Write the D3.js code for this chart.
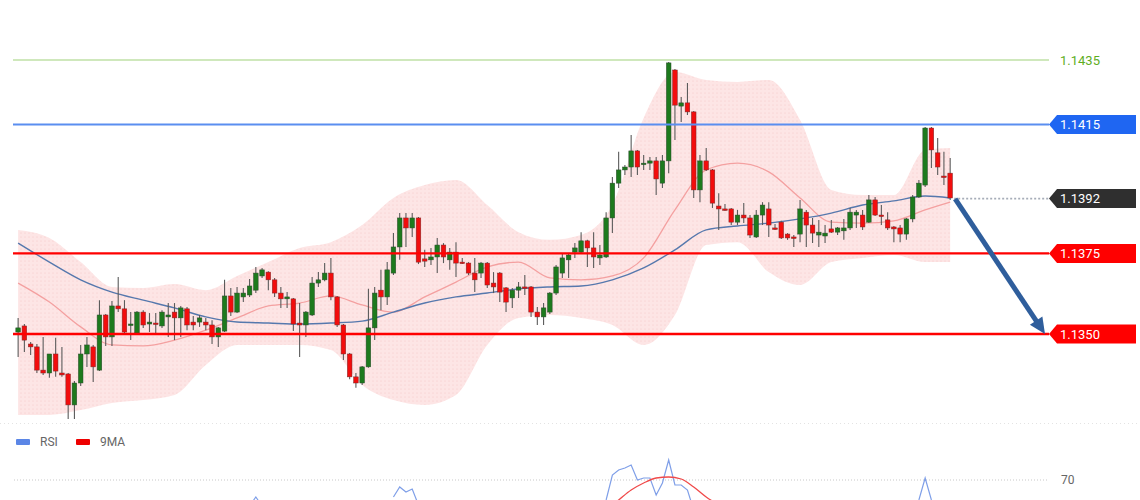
<!DOCTYPE html>
<html><head><meta charset="utf-8">
<script src="https://cdn.jsdelivr.net/npm/d3@7"></script>
<style>body{margin:0;background:#fff}svg{display:block;font-family:Roboto,Arial,sans-serif}</style>
</head><body><svg id="c" width="1140" height="500"></svg>
<script>
const openP=[1.13506,1.13525,1.13469,1.13460,1.13388,1.13379,1.13438,1.13379,1.13376,1.13280,
1.13348,1.13438,1.13460,1.13388,1.13559,1.13491,1.13587,1.13578,1.13528,1.13503,
1.13568,1.13531,1.13534,1.13525,1.13553,1.13568,1.13550,1.13578,1.13537,1.13537,
1.13537,1.13528,1.13491,1.13509,1.13618,1.13568,1.13615,1.13621,1.13636,1.13680,
1.13692,1.13668,1.13627,1.13609,1.13609,1.13534,1.13528,1.13559,1.13658,1.13668,
1.13689,1.13615,1.13528,1.13438,1.13367,1.13348,1.13398,1.13519,1.13636,1.13615,
1.13689,1.13770,1.13860,1.13829,1.13860,1.13733,1.13730,1.13739,1.13776,1.13730,
1.13754,1.13723,1.13720,1.13689,1.13689,1.13720,1.13658,1.13689,1.13643,1.13612,
1.13636,1.13646,1.13646,1.13568,1.13553,1.13568,1.13627,1.13689,1.13730,1.13754,
1.13754,1.13789,1.13767,1.13736,1.13739,1.13860,1.13968,1.14009,1.14018,1.14068,
1.14027,1.14030,1.14037,1.13968,1.14037,1.14319,1.14207,1.14217,1.14189,1.13947,
1.14037,1.14009,1.13897,1.13888,1.13888,1.13847,1.13869,1.13860,1.13801,1.13869,
1.13888,1.13829,1.13847,1.13810,1.13801,1.13810,1.13878,1.13838,1.13807,1.13804,
1.13826,1.13816,1.13820,1.13829,1.13869,1.13869,1.13847,1.13916,1.13869,1.13854,
1.13832,1.13829,1.13810,1.13857,1.13925,1.13962,1.14139,1.14062,1.13990,1.13999];
const highP=[1.13550,1.13531,1.13475,1.13469,1.13491,1.13438,1.13488,1.13460,1.13379,1.13354,
1.13466,1.13491,1.13466,1.13605,1.13562,1.13602,1.13677,1.13605,1.13568,1.13571,
1.13574,1.13565,1.13565,1.13574,1.13596,1.13596,1.13587,1.13584,1.13556,1.13559,
1.13550,1.13543,1.13522,1.13668,1.13643,1.13646,1.13643,1.13671,1.13708,1.13705,
1.13695,1.13674,1.13646,1.13630,1.13612,1.13596,1.13571,1.13677,1.13692,1.13720,
1.13736,1.13618,1.13531,1.13441,1.13379,1.13401,1.13640,1.13646,1.13699,1.13723,
1.13813,1.13875,1.13875,1.13875,1.13863,1.13761,1.13767,1.13798,1.13782,1.13767,
1.13785,1.13736,1.13723,1.13736,1.13723,1.13723,1.13692,1.13692,1.13646,1.13643,
1.13661,1.13683,1.13649,1.13584,1.13596,1.13630,1.13714,1.13751,1.13751,1.13782,
1.13816,1.13792,1.13816,1.13776,1.13878,1.13987,1.14065,1.14024,1.14117,1.14071,
1.14055,1.14049,1.14049,1.14055,1.14344,1.14322,1.14235,1.14279,1.14192,1.14055,
1.14077,1.14012,1.13937,1.13903,1.13891,1.13885,1.13906,1.13869,1.13885,1.13909,
1.13909,1.13841,1.13851,1.13813,1.13807,1.13916,1.13885,1.13860,1.13854,1.13838,
1.13854,1.13832,1.13857,1.13891,1.13885,1.13885,1.13931,1.13925,1.13900,1.13878,
1.13835,1.13838,1.13860,1.13931,1.13978,1.14142,1.14142,1.14108,1.14065,1.14046];
const lowP=[1.13429,1.13444,1.13435,1.13379,1.13373,1.13364,1.13367,1.13367,1.13236,1.13236,
1.13339,1.13398,1.13351,1.13385,1.13463,1.13463,1.13568,1.13503,1.13481,1.13497,
1.13519,1.13506,1.13503,1.13519,1.13491,1.13481,1.13491,1.13512,1.13512,1.13522,
1.13512,1.13469,1.13460,1.13506,1.13556,1.13565,1.13599,1.13615,1.13627,1.13674,
1.13636,1.13615,1.13581,1.13581,1.13509,1.13429,1.13491,1.13556,1.13646,1.13664,
1.13605,1.13522,1.13419,1.13360,1.13333,1.13342,1.13395,1.13481,1.13574,1.13590,
1.13683,1.13730,1.13770,1.13801,1.13717,1.13708,1.13714,1.13689,1.13720,1.13699,
1.13677,1.13717,1.13683,1.13630,1.13674,1.13643,1.13627,1.13599,1.13568,1.13581,
1.13612,1.13621,1.13553,1.13528,1.13528,1.13562,1.13621,1.13674,1.13674,1.13736,
1.13751,1.13708,1.13705,1.13714,1.13736,1.13813,1.13953,1.13993,1.13987,1.13993,
1.14009,1.14009,1.13931,1.13953,1.13999,1.14102,1.14158,1.14179,1.13922,1.13909,
1.14006,1.13891,1.13823,1.13882,1.13838,1.13838,1.13844,1.13798,1.13798,1.13838,
1.13801,1.13823,1.13795,1.13792,1.13770,1.13785,1.13770,1.13782,1.13770,1.13782,
1.13813,1.13807,1.13792,1.13823,1.13829,1.13823,1.13844,1.13866,1.13838,1.13823,
1.13785,1.13785,1.13792,1.13847,1.13922,1.13956,1.14015,1.13993,1.13962,1.13916];
const closeP=[1.13519,1.13481,1.13460,1.13388,1.13379,1.13438,1.13385,1.13373,1.13280,1.13348,
1.13438,1.13466,1.13398,1.13559,1.13491,1.13587,1.13578,1.13506,1.13531,1.13568,
1.13528,1.13537,1.13531,1.13568,1.13559,1.13550,1.13581,1.13528,1.13528,1.13550,
1.13528,1.13491,1.13519,1.13618,1.13568,1.13627,1.13627,1.13649,1.13689,1.13699,
1.13668,1.13627,1.13609,1.13615,1.13531,1.13528,1.13568,1.13658,1.13668,1.13689,
1.13615,1.13528,1.13438,1.13367,1.13348,1.13398,1.13519,1.13627,1.13615,1.13699,
1.13770,1.13860,1.13829,1.13860,1.13723,1.13726,1.13739,1.13776,1.13739,1.13754,
1.13720,1.13720,1.13689,1.13668,1.13720,1.13652,1.13646,1.13630,1.13599,1.13636,
1.13646,1.13643,1.13568,1.13553,1.13581,1.13627,1.13708,1.13736,1.13745,1.13767,
1.13789,1.13767,1.13739,1.13745,1.13860,1.13968,1.14009,1.14018,1.14068,1.14018,
1.14030,1.14037,1.13981,1.14037,1.14341,1.14210,1.14217,1.14189,1.13947,1.14037,
1.14009,1.13906,1.13888,1.13885,1.13847,1.13869,1.13860,1.13807,1.13869,1.13900,
1.13838,1.13826,1.13798,1.13798,1.13798,1.13888,1.13838,1.13813,1.13816,1.13813,
1.13816,1.13829,1.13829,1.13878,1.13878,1.13832,1.13916,1.13869,1.13866,1.13829,
1.13826,1.13810,1.13857,1.13925,1.13968,1.14139,1.14071,1.14018,1.13987,1.13922];

const bandIdx=[0,5,10,15,20,25,30,35,40,45,50,55,60,65,70,75,80,85,90,95,100,105,110,115,120,125,130,135,140,145,149];
const upperBand=[1.13823,1.13798,1.13723,1.13646,1.13643,1.13655,1.13636,1.13680,1.13723,1.13767,1.13785,1.13838,1.13922,1.13962,1.13978,1.13900,1.13816,1.13792,1.13807,1.13900,1.14170,1.14313,1.14288,1.14282,1.14288,1.14164,1.13947,1.13931,1.13931,1.14071,1.14077];
const lowerBand=[1.13249,1.13249,1.13264,1.13286,1.13295,1.13311,1.13404,1.13466,1.13466,1.13466,1.13450,1.13342,1.13295,1.13280,1.13311,1.13466,1.13550,1.13559,1.13550,1.13528,1.13466,1.13559,1.13776,1.13785,1.13692,1.13652,1.13723,1.13736,1.13745,1.13723,1.13723];
const redMA=[1.13658,1.13599,1.13522,1.13466,1.13463,1.13481,1.13512,1.13550,1.13587,1.13596,1.13618,1.13590,1.13568,1.13615,1.13661,1.13708,1.13723,1.13674,1.13668,1.13680,1.13736,1.13885,1.14009,1.14030,1.14003,1.13922,1.13847,1.13844,1.13851,1.13885,1.13909];
const blueMA=[1.13782,1.13723,1.13668,1.13630,1.13605,1.13581,1.13553,1.13537,1.13534,1.13531,1.13534,1.13540,1.13568,1.13596,1.13615,1.13627,1.13640,1.13646,1.13649,1.13668,1.13705,1.13761,1.13823,1.13835,1.13844,1.13857,1.13875,1.13900,1.13913,1.13928,1.13922];

const levelValues=[1.1435,1.1415,1.1392,1.1375,1.1350];
const levelLabels=["1.1435","1.1415","1.1392","1.1375","1.1350"];

const rsiIdx=[36,37,38,39,40,59,60,61,62,63,64,65,89,90,91,93,94,95,96,97,98,99,100,101,102,103,104,105,106,107,108,109,143,144,145,146,147];
const rsiVals=[50,57,61.5,57,50,null,61.5,66.5,64,65.5,57.5,null,null,60.5,null,55,60,72.5,75,76,77.5,70,71,71,62.5,68.5,80,67.5,67.5,65,55,null,55,60,71,60,52];
const ma9Idx=[94,96,98,100,102,104,106,108,110,112];
const ma9Vals=[55,60,65,68.5,71,71.5,70.5,66.5,61.5,57.5];
const rsiTicks=[70];

const svg=d3.select("#c");
const defs=svg.append("defs");
const pat=defs.append("pattern").attr("id","dots").attr("width",4).attr("height",4).attr("patternUnits","userSpaceOnUse");
pat.append("rect").attr("width",4).attr("height",4).attr("fill","#fde5e5");
pat.append("circle").attr("cx",1).attr("cy",1).attr("r",0.55).attr("fill","#f6c8c8");

const n=openP.length;
const x=d3.scaleBand().domain(d3.range(n)).range([15,953.3]).paddingInner(0.26).paddingOuter(0.13);
const xc=i=>x(i)+x.bandwidth()/2;
const y=d3.scaleLinear().domain([1.1350,1.1435]).range([334,60]);

// band
const bandData=bandIdx.map((d,k)=>({i:d,u:upperBand[k],l:lowerBand[k]}));
svg.append("path").datum(bandData)
 .attr("d",d3.area().x(d=>xc(d.i)).y0(d=>y(d.l)).y1(d=>y(d.u)).curve(d3.curveMonotoneX))
 .attr("fill","url(#dots)");

const line=d3.line().x(d=>xc(d.i)).y(d=>y(d.v)).curve(d3.curveMonotoneX);
svg.append("path").datum(bandIdx.map((d,k)=>({i:d,v:redMA[k]}))).attr("d",line)
 .attr("fill","none").attr("stroke","#f4a0a0").attr("stroke-width",1.3);
svg.append("path").datum(bandIdx.map((d,k)=>({i:d,v:blueMA[k]}))).attr("d",line)
 .attr("fill","none").attr("stroke","#5678ad").attr("stroke-width",1.4);

// candles
const candles=d3.range(n).map(i=>({i,o:openP[i],h:highP[i],l:lowP[i],c:closeP[i]}));
const g=svg.append("g");
g.selectAll("line.w").data(candles).join("line").attr("class","w")
 .attr("x1",d=>xc(d.i)).attr("x2",d=>xc(d.i)).attr("y1",d=>y(d.h)).attr("y2",d=>y(d.l))
 .attr("stroke","#5b5b5b").attr("stroke-width",1.1);
g.selectAll("rect.b").data(candles).join("rect").attr("class","b")
 .attr("x",d=>x(d.i)).attr("width",x.bandwidth())
 .attr("y",d=>y(Math.max(d.o,d.c)))
 .attr("height",d=>Math.max(1.5,Math.abs(y(d.o)-y(d.c))))
 .attr("fill",d=>d.c>=d.o?"#1d7a1d":"#f20d0d")
 .attr("stroke",d=>d.c>=d.o?"#2e4a2e":"#7a2a2a").attr("stroke-width",0.5);

// levels
const xEnd=1049;
const lv=svg.append("g");
lv.append("line").attr("x1",13).attr("x2",xEnd).attr("y1",y(levelValues[0])).attr("y2",y(levelValues[0])).attr("stroke","#9fd27a").attr("stroke-width",1.2);
lv.append("text").attr("x",1060).attr("y",y(levelValues[0])).attr("dy","0.36em").attr("fill","#5fae1e").attr("font-size",13).text(levelLabels[0]);
lv.append("line").attr("x1",13).attr("x2",xEnd).attr("y1",y(levelValues[1])).attr("y2",y(levelValues[1])).attr("stroke","#5a8ef0").attr("stroke-width",2);
lv.append("line").attr("x1",xc(n-1)+4).attr("x2",xEnd).attr("y1",y(levelValues[2])).attr("y2",y(levelValues[2])).attr("stroke","#a6adb8").attr("stroke-width",1.6).attr("stroke-dasharray","2,2");
[3,4].forEach(k=>lv.append("line").attr("x1",13).attr("x2",xEnd).attr("y1",y(levelValues[k])).attr("y2",y(levelValues[k])).attr("stroke","#ff0000").attr("stroke-width",2.4));
const boxCol={1:"#1f66f2",2:"#2f2f2f",3:"#ff0000",4:"#ff0000"};
[1,2,3,4].forEach(k=>{
  const yy=y(levelValues[k]);
  lv.append("path").attr("d",`M${xEnd},${yy} L${xEnd+8},${yy-9.5} L1136,${yy-9.5} L1136,${yy+9.5} L${xEnd+8},${yy+9.5} Z`).attr("fill",boxCol[k]);
  lv.append("text").attr("x",1060).attr("y",yy).attr("dy","0.36em").attr("fill","#fff").attr("font-size",13).text(levelLabels[k]);
});

// arrow
const ax0=xc(n-1)+5, ay0=y(closeP[n-1])+1, ax1=1045, ay1=y(levelValues[4]);
const dx=ax1-ax0, dy=ay1-ay0, L=Math.hypot(dx,dy), ux=dx/L, uy=dy/L;
const hl=16, hw=7.5;
const bx=ax1-ux*hl, by=ay1-uy*hl;
svg.append("line").attr("x1",ax0).attr("y1",ay0).attr("x2",bx+ux*2).attr("y2",by+uy*2).attr("stroke","#2f5e9c").attr("stroke-width",5);
svg.append("path").attr("d",`M${ax1},${ay1} L${bx-uy*hw},${by+ux*hw} L${bx+uy*hw},${by-ux*hw} Z`).attr("fill","#2f5e9c");

// separator
svg.append("line").attr("x1",0).attr("x2",1140).attr("y1",423.5).attr("y2",423.5).attr("stroke","#e3e3e3").attr("stroke-dasharray","1,3");

// RSI panel
const yr=d3.scaleLinear().domain([30,100]).range([560,420]);
rsiTicks.forEach(t=>{
  svg.append("line").attr("x1",14).attr("x2",1047).attr("y1",yr(t)).attr("y2",yr(t)).attr("stroke","#c8c8c8").attr("stroke-dasharray","1,2");
  svg.append("text").attr("x",1061).attr("y",yr(t)).attr("dy","0.36em").attr("fill","#666").attr("font-size",12).text(t);
});
const rl=d3.line().defined(d=>d.v!=null).x(d=>xc(d.i)).y(d=>yr(d.v));
svg.append("path").datum(rsiIdx.map((d,k)=>({i:d,v:rsiVals[k]}))).attr("d",rl).attr("fill","none").attr("stroke","#7f9fe8").attr("stroke-width",1.2);
svg.append("path").datum(ma9Idx.map((d,k)=>({i:d,v:ma9Vals[k]}))).attr("d",rl.curve(d3.curveMonotoneX)).attr("fill","none").attr("stroke","#f04a4a").attr("stroke-width",1.3);

// legend
const leg=svg.append("g").attr("font-size",12).attr("fill","#666");
leg.append("rect").attr("x",16).attr("y",439).attr("width",14).attr("height",6).attr("rx",1).attr("fill","#5b86e6");
leg.append("text").attr("x",40).attr("y",442).attr("dy","0.36em").text("RSI");
leg.append("rect").attr("x",76).attr("y",439).attr("width",14).attr("height",6).attr("rx",1).attr("fill","#ee0000");
leg.append("text").attr("x",100).attr("y",442).attr("dy","0.36em").text("9MA");
</script></body></html>
